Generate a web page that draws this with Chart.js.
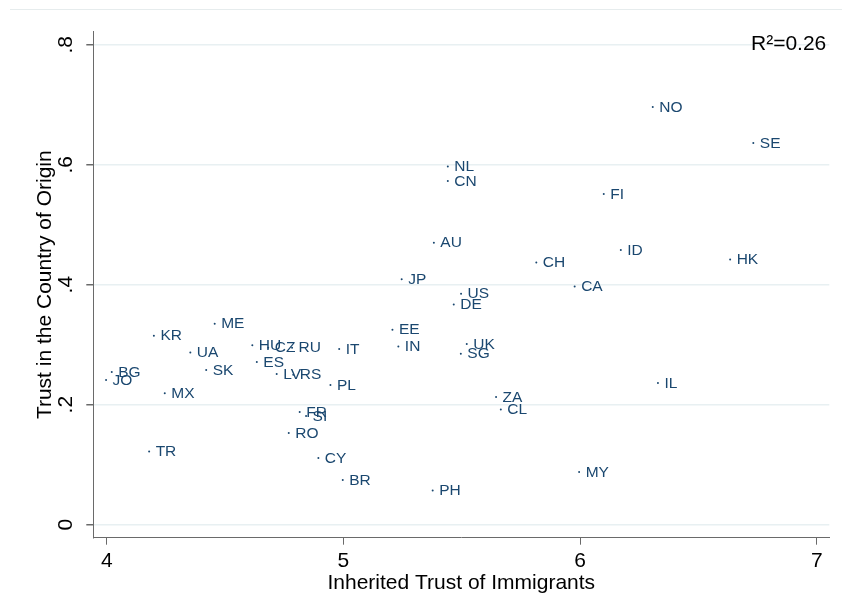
<!DOCTYPE html>
<html>
<head>
<meta charset="utf-8">
<script src="https://cdn.jsdelivr.net/npm/chart.js@4"></script>
<style>
html,body{margin:0;padding:0;background:#fff;}
canvas{display:block;}
</style>
</head>
<body>
<canvas id="c" width="842" height="611"></canvas>
<script>
const codes = ["NO","SE","HK","IL","NL","CN","FI","AU","ID","CH","JP","CA","US","DE","EE","IN","UK","SG","ZA","CL","PH","MY","BR","CY","RO","FR","SI","PL","IT","HU","CZ","RU","ES","LV","RS","SK","UA","ME","KR","MX","TR","BG","JO"];
const inheritedTrust = [6.307,6.732,6.634,6.329,5.441,5.441,6.100,5.382,6.172,5.815,5.246,5.977,5.497,5.466,5.207,5.232,5.521,5.496,5.645,5.665,5.377,5.996,4.997,4.894,4.769,4.815,4.842,4.945,4.982,4.615,4.682,4.783,4.634,4.718,4.788,4.420,4.353,4.456,4.199,4.245,4.179,4.021,3.997];
const originTrust = [0.696,0.636,0.442,0.236,0.597,0.573,0.551,0.470,0.458,0.437,0.409,0.397,0.385,0.367,0.325,0.297,0.301,0.285,0.213,0.192,0.057,0.088,0.0745,0.111,0.153,0.188,0.181,0.233,0.293,0.299,0.295,0.295,0.271,0.251,0.250,0.258,0.287,0.335,0.315,0.219,0.122,0.2545,0.241];
const xTicks = [4,5,6,7];
const yTicks = [0,0.2,0.4,0.6,0.8];
const yTickLabels = ["0",".2",".4",".6",".8"];
const xTitle = "Inherited Trust of Immigrants";
const yTitle = "Trust in the Country of Origin";
const fitNote = "R\u00B2=0.26";

const FONT = "'Liberation Sans', Arial, sans-serif";
const NAVY = "#1a476f";

const labelPlugin = {
  id: 'pointLabels',
  beforeDraw(chart) {
    const ctx = chart.ctx;
    ctx.save();
    ctx.strokeStyle = '#e6eced';
    ctx.lineWidth = 1;
    ctx.beginPath();
    ctx.moveTo(10, 9.5);
    ctx.lineTo(842, 9.5);
    ctx.stroke();
    ctx.restore();
  },
  afterDatasetsDraw(chart) {
    const ctx = chart.ctx;
    const meta = chart.getDatasetMeta(0);
    ctx.save();
    ctx.font = "15.5px " + FONT;
    ctx.fillStyle = NAVY;
    ctx.textAlign = 'left';
    ctx.textBaseline = 'middle';
    meta.data.forEach((pt, i) => {
      ctx.fillText(codes[i], pt.x + 6.5, pt.y + 0.5);
    });
    const ca = chart.chartArea;
    ctx.font = "21px " + FONT;
    ctx.fillStyle = '#000';
    ctx.textAlign = 'right';
    ctx.fillText(fitNote, ca.right - 3, ca.top + 13);
    ctx.restore();
  }
};

new Chart(document.getElementById('c'), {
  type: 'scatter',
  data: {
    datasets: [{
      data: inheritedTrust.map((x, i) => ({x: x, y: originTrust[i]})),
      pointRadius: 1,
      pointBorderWidth: 0,
      pointBackgroundColor: NAVY,
      pointBorderColor: NAVY
    }]
  },
  options: {
    responsive: false,
    animation: false,
    devicePixelRatio: 1,
    layout: { padding: { top: 31.7, right: 12.7, left: 0, bottom: 0 } },
    plugins: { legend: { display: false }, tooltip: { enabled: false } },
    scales: {
      x: {
        type: 'linear',
        min: 3.943, max: 7.053,
        afterBuildTicks: s => { s.ticks = xTicks.map(v => ({value: v})); },
        afterFit: s => { s.height = 73.3; },
        border: { display: true, color: '#6a6a6a', width: 1 },
        grid: { drawOnChartArea: false, drawTicks: true, tickLength: 7, tickColor: '#6a6a6a', color: '#6a6a6a' },
        ticks: { color: '#000', font: { family: FONT, size: 21 }, padding: 4, maxRotation: 0, minRotation: 0 },
        title: { display: true, text: xTitle, color: '#000', font: { family: FONT, size: 21 }, padding: { top: 0, bottom: 15 } }
      },
      y: {
        type: 'linear',
        min: -0.0217, max: 0.8217,
        afterBuildTicks: s => { s.ticks = yTicks.map(v => ({value: v})); },
        afterFit: s => { s.width = 93.3; },
        border: { display: true, color: '#6a6a6a', width: 1 },
        grid: { drawOnChartArea: true, drawTicks: true, tickLength: 7, tickColor: '#6a6a6a', color: '#e8f0f2', lineWidth: 1.5 },
        ticks: {
          color: '#000', font: { family: FONT, size: 21 }, padding: 11, minRotation: 90, maxRotation: 90, crossAlign: 'center',
          callback: (v) => { const k = yTicks.findIndex(t => Math.abs(t - v) < 1e-9); return k >= 0 ? yTickLabels[k] : ''; }
        },
        title: { display: true, text: yTitle, color: '#000', font: { family: FONT, size: 21 }, padding: { top: 33, bottom: 0 } }
      }
    }
  },
  plugins: [labelPlugin]
});
</script>
</body>
</html>
